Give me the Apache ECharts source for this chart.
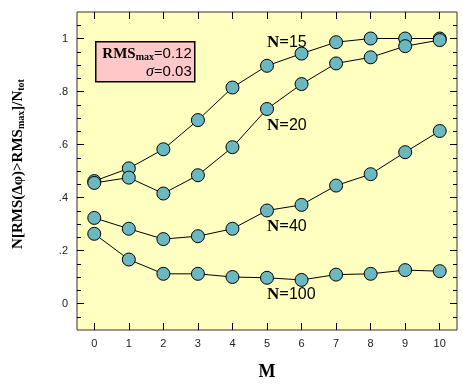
<!DOCTYPE html>
<html><head><meta charset="utf-8">
<script src="https://cdn.jsdelivr.net/npm/echarts@6/dist/echarts.min.js"></script>
<style>html,body{margin:0;padding:0;background:#fff}#c{width:463px;height:386px}</style>
</head><body><div id="c"></div>
<script>
var mValues = [0,1,2,3,4,5,6,7,8,9,10];
var n15 = [0.462,0.510,0.582,0.692,0.815,0.897,0.943,0.986,1.000,1.000,1.000];
var n20 = [0.455,0.475,0.415,0.484,0.590,0.734,0.828,0.906,0.929,0.971,0.994];
var n40 = [0.323,0.282,0.243,0.254,0.282,0.351,0.372,0.445,0.488,0.571,0.651];
var n100 = [0.263,0.166,0.112,0.112,0.100,0.097,0.089,0.109,0.112,0.126,0.122];
var seriesNames = ['15','20','40','100'];
var labelAnchors = [[5,0.986],[5,0.672],[5,0.289],[5,0.035]];
var yMajorTicks = [0,0.2,0.4,0.6,0.8,1];
var yMinorTicks = [];
for (var i=-1;i<=21;i++){ yMinorTicks.push(+(i*0.05).toFixed(2)); }
var yTickLabels = {'0':'0','0.2':'.2','0.4':'.4','0.6':'.6','0.8':'.8','1':'1'};
var xTickValues = [0,1,2,3,4,5,6,7,8,9,10];

var chart = echarts.init(document.getElementById('c'), null, {renderer:'canvas'});
var SERIF = '"Liberation Serif", serif';
var SANS = '"Liberation Sans", Arial, sans-serif';
function pairs(arr){ return arr.map(function(v,i){ return [mValues[i], v]; }); }
var allData = [n15,n20,n40,n100];
var series = allData.map(function(d, k){
  return {
    type:'line', data: pairs(d), symbol:'circle', symbolSize:13,
    lineStyle:{color:'#000', width:1},
    itemStyle:{color:'#6cb8c0', borderColor:'#000', borderWidth:1},
    z: 3,
    markPoint:{
      symbol:'circle', symbolSize:0, silent:true,
      data:[{coord: labelAnchors[k], value: seriesNames[k]}],
      label:{show:true, position:'inside', align:'left', verticalAlign:'middle',
        formatter: '{n|N=}{v|' + seriesNames[k] + '}',
        rich:{ n:{fontFamily:SERIF, fontWeight:'bold', fontSize:17, color:'#000'},
               v:{fontFamily:SANS, fontSize:16, color:'#000'} } }
    }
  };
});
var xCommon = {type:'value', min:-0.5, max:10.5, splitLine:{show:false},
  axisLine:{show:false, onZero:false}};
var yCommon = {type:'value', min:-0.1, max:1.1, splitLine:{show:false}, axisLine:{show:false, onZero:false}};
var option = {
  animation:false,
  grid:{left:77, right:6, top:12, bottom:56, show:true, backgroundColor:'#ffffc0', borderColor:'#333', borderWidth:1},
  xAxis:[
    Object.assign({}, xCommon, {position:'bottom',
      axisTick:{inside:true, length:7, customValues:xTickValues, lineStyle:{color:'#000'}},
      axisLabel:{customValues:xTickValues, fontFamily:SANS, fontSize:11, color:'#222', margin:8},
      name:'M', nameLocation:'middle', nameGap:33,
      nameTextStyle:{fontFamily:SERIF, fontWeight:'bold', fontSize:18, color:'#000'}}),
    Object.assign({}, xCommon, {position:'top',
      axisTick:{inside:true, length:7, customValues:xTickValues, lineStyle:{color:'#000'}},
      axisLabel:{show:false}})
  ],
  yAxis:[
    Object.assign({}, yCommon, {position:'left',
      axisTick:{inside:true, length:7, customValues:yMajorTicks, lineStyle:{color:'#000'}},
      axisLabel:{customValues:yMajorTicks, fontFamily:SANS, fontSize:11, color:'#222', margin:9,
        formatter:function(v){ var k = String(+v.toFixed(2)); return yTickLabels[k] !== undefined ? yTickLabels[k] : ''; }}}),
    Object.assign({}, yCommon, {position:'left',
      axisTick:{inside:true, length:4, customValues:yMinorTicks, lineStyle:{color:'#000'}},
      axisLabel:{show:false}}),
    Object.assign({}, yCommon, {position:'right',
      axisTick:{inside:true, length:7, customValues:yMajorTicks, lineStyle:{color:'#000'}},
      axisLabel:{show:false}}),
    Object.assign({}, yCommon, {position:'right',
      axisTick:{inside:true, length:4, customValues:yMinorTicks, lineStyle:{color:'#000'}},
      axisLabel:{show:false}})
  ],
  graphic:[{
    type:'text', x:18, y:164, rotation:Math.PI/2,
    style:{text:'N[RMS(Δφ)>RMS{s|max}]/N{s|tot}', align:'center', verticalAlign:'middle',
      fontFamily:SERIF, fontWeight:'bold', fontSize:15, fill:'#000',
      rich:{s:{fontFamily:SERIF, fontWeight:'bold', fontSize:10, fill:'#000', padding:[7,0,0,0]}}}
  },{
    type:'group', left:95, top:41, children:[
      {type:'rect', shape:{x:0,y:0,width:99,height:40}, style:{fill:'#ffc8c8', stroke:'#000', lineWidth:1.5}},
      {type:'text', x:96, y:12, style:{text:'{a|RMS}{s|max}{a|=}{b|0.12}', align:'right', verticalAlign:'middle',
        rich:{a:{fontFamily:SERIF, fontWeight:'bold', fontSize:15, fill:'#000'},
              s:{fontFamily:SERIF, fontWeight:'bold', fontSize:10, fill:'#000', padding:[7,0,0,0]},
              b:{fontFamily:SANS, fontSize:15, fill:'#000'}}}},
      {type:'text', x:96, y:30, style:{text:'{g|σ}{a|=}{b|0.03}', align:'right', verticalAlign:'middle',
        rich:{g:{fontFamily:SERIF, fontStyle:'italic', fontSize:16, fill:'#000'},
              a:{fontFamily:SERIF, fontWeight:'bold', fontSize:15, fill:'#000'},
              b:{fontFamily:SANS, fontSize:15, fill:'#000'}}}}
    ]
  }],
  series: series
};
chart.setOption(option);
</script></body></html>
